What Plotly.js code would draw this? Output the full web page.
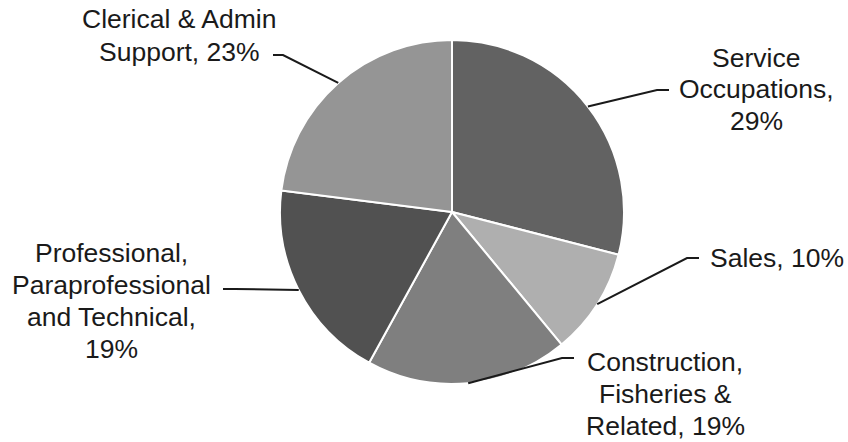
<!DOCTYPE html>
<html>
<head>
<meta charset="utf-8">
<script src="https://cdn.plot.ly/plotly-3.0.1.min.js"></script>
<style>html,body{margin:0;padding:0;background:#fff;}#chart{width:848px;height:442px;}</style>
</head>
<body>
<div id="chart"></div>
<script>
// ---- data ----
const categories = ["Service Occupations", "Sales", "Construction, Fisheries & Related", "Professional, Paraprofessional and Technical", "Clerical & Admin Support"];
const labelLines = [
  ["Service", "Occupations,", "29%"],
  ["Sales, 10%"],
  ["Construction,", "Fisheries &", "Related, 19%"],
  ["Professional,", "Paraprofessional", "and Technical,", "19%"],
  ["Clerical & Admin", "Support, 23%"]
];
const values = [29, 10, 19, 19, 23];
const colors = ["#626262", "#afafaf", "#7f7f7f", "#515151", "#959595"];

// ---- layout config (pixels) ----
const W = 848, H = 442;
const cx = 452, cy = 212, R = 172;
// label line centres (x, first line y, line step), elbow point, leader end
const labelPos = [
  {tx: 756, ty: 58,    step: 31.5, ex: 657, ey: 90,  lx: 669, ly: 90},
  {tx: 777, ty: 257.5, step: 32,   ex: 687, ey: 258, lx: 699, ly: 258},
  {tx: 665, ty: 362,   step: 32,   ex: 562, ey: 358, lx: 574, ly: 358},
  {tx: 111, ty: 252.5, step: 32,   ex: 235, ey: 289, lx: 223, ly: 289},
  {tx: 179, ty: 19,    step: 33,   ex: 283, ey: 55,  lx: 273, ly: 55}
];

const px = x => x / W;
const py = y => 1 - y / H;

const total = values.reduce((a, b) => a + b, 0);
let cum = 0;
const shapes = [], annotations = [];
values.forEach((v, i) => {
  const mid = (cum + v / 2) / total * 2 * Math.PI; // clockwise from 12 o'clock
  cum += v;
  const sx = cx + R * Math.sin(mid);
  const sy = cy - R * Math.cos(mid);
  const p = labelPos[i];
  shapes.push({
    type: 'path', xref: 'paper', yref: 'paper',
    path: `M ${px(sx)} ${py(sy)} L ${px(p.ex)} ${py(p.ey)} L ${px(p.lx)} ${py(p.ly)}`,
    line: {color: '#1a1a1a', width: 2}
  });
  labelLines[i].forEach((t, k) => {
    annotations.push({
      xref: 'paper', yref: 'paper', x: px(p.tx), y: py(p.ty + k * p.step),
      xanchor: 'center', yanchor: 'middle', align: 'center',
      text: t, showarrow: false, borderpad: 0,
      font: {family: 'Liberation Sans, Arial, sans-serif', size: 26.5, color: '#1a1a1a'}
    });
  });
});

const trace = {
  type: 'pie',
  labels: categories,
  values: values,
  sort: false,
  direction: 'clockwise',
  rotation: 0,
  textinfo: 'none',
  hoverinfo: 'label+percent',
  marker: {colors: colors, line: {color: '#ffffff', width: 2}},
  domain: {x: [px(cx - R), px(cx + R)], y: [py(cy + R), py(cy - R)]}
};

const layout = {
  width: W, height: H,
  margin: {l: 0, r: 0, t: 0, b: 0},
  paper_bgcolor: '#ffffff',
  showlegend: false,
  shapes: shapes,
  annotations: annotations
};

Plotly.newPlot('chart', [trace], layout, {displayModeBar: false, staticPlot: true});
</script>
</body>
</html>
